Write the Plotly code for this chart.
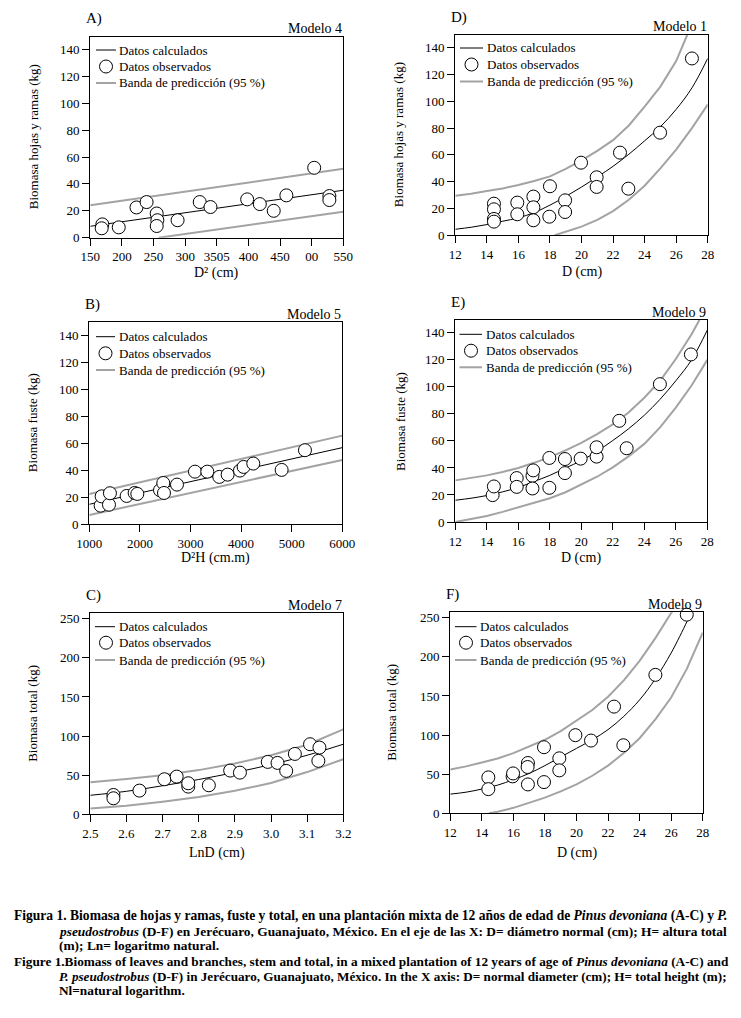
import plotly.graph_objects as go

# The page body keeps its default 8px margin, so the figure is sized to fit inside the
# 741x1018 window and every pixel position below is measured in window coordinates.
WIN_W, WIN_H = 741, 1018
OFF = 8
W, H = WIN_W - 2 * OFF, WIN_H - 2 * OFF
FONT = "Liberation Serif"

# ---------------- data ----------------
# Panel A  (Modelo 4): x = D^2 (cm), y = Biomasa hojas y ramas (kg)
A_obs_x = [169, 168, 195, 223, 239, 255, 256, 255, 288, 323, 340, 398, 418, 440, 460, 504, 528, 528]
A_obs_y = [9.9, 7.0, 7.7, 22.5, 26.5, 18.0, 13.0, 8.7, 13.0, 26.5, 22.8, 28.5, 25.0, 20.0, 31.5, 52.0, 31.0, 28.0]
A_calc_x = [150, 550]
A_calc_y = [8.5, 35.3]
A_up_x = [150, 550]
A_up_y = [24.2, 51.2]
A_lo_x = [258, 550]
A_lo_y = [0.0, 19.3]
A_ticks = [150, 200, 250, 300, 350, 400, 450, 500, 550]
A_ticktext = ["150", "200", "250", "300", "3505", "400", "450", "00", "550"]

# Panel B  (Modelo 5): x = D^2H (cm.m), y = Biomasa fuste (kg)
B_obs_x = [1224, 1244, 1389, 1408, 1738, 1896, 1949, 2397, 2462, 2476, 2733, 3088, 3332, 3569, 3734, 3977, 4050, 4241, 4801, 5262]
B_obs_y = [13.6, 20.5, 14.3, 22.8, 20.8, 23.0, 22.3, 25.0, 30.4, 23.0, 29.2, 38.8, 38.8, 34.9, 36.6, 39.6, 42.3, 44.8, 40.1, 54.7]
B_calc_x = [1000, 6000]
B_calc_y = [14.6, 56.6]
B_up_x = [1000, 6000]
B_up_y = [22.2, 65.5]
B_lo_x = [1000, 6000]
B_lo_y = [6.7, 47.5]

# Panel C  (Modelo 7): x = LnD (cm), y = Biomasa total (kg)
C_obs_x = [2.564, 2.564, 2.636, 2.705, 2.739, 2.771, 2.771, 2.828, 2.887, 2.914, 2.991, 3.018, 3.042, 3.066, 3.108, 3.134, 3.131]
C_obs_y = [24.7, 20.5, 30.3, 44.8, 48.2, 35.4, 39.7, 37.1, 55.9, 53.3, 67.0, 65.7, 55.5, 77.2, 89.6, 85.3, 68.3]
C_line_x = [2.5, 2.6, 2.7, 2.8, 2.9, 3.0, 3.1, 3.2]
C_calc_y = [24.3, 29.4, 36.5, 44.5, 53.5, 63.5, 75.5, 89.6]
C_up_y = [41.0, 45.0, 50.0, 56.5, 65.0, 75.5, 89.0, 108.5]
C_lo_y = [7.3, 11.0, 16.0, 22.0, 30.0, 40.0, 54.0, 70.4]

# Panel D  (Modelo 1): x = D (cm), y = Biomasa hojas y ramas (kg)
D_obs_x = [14.45, 14.45, 14.45, 14.45, 15.93, 15.93, 16.95, 16.95, 16.95, 18.0, 17.96, 18.96, 18.96, 19.97, 20.96, 20.96, 22.44, 22.97, 24.98, 27.0]
D_obs_y = [23.6, 19.4, 12.2, 10.2, 24.4, 15.7, 28.9, 20.9, 11.2, 36.6, 13.9, 26.1, 17.4, 54.2, 43.3, 36.1, 61.7, 34.8, 76.6, 132.0]
D_calc_x = [12, 13, 14, 15, 16, 17, 18, 19, 20, 21, 22, 23, 24, 25, 26, 27, 28]
D_calc_y = [4.5, 6.0, 8.0, 10.5, 13.0, 17.0, 22.5, 29.0, 36.0, 43.5, 51.5, 60.5, 70.5, 81.0, 94.0, 110.0, 132.0]
D_up_x = [12, 13, 14, 15, 16, 17, 18, 19, 20, 21, 22, 23, 24, 25, 26, 26.7]
D_up_y = [29.6, 31.0, 33.0, 35.0, 37.6, 40.5, 44.0, 49.5, 56.0, 63.0, 71.0, 82.0, 96.0, 111.0, 130.0, 149.5]
D_lo_x = [18.3, 19, 20, 21, 22, 23, 24, 25, 26, 27, 28]
D_lo_y = [0.0, 2.5, 6.5, 11.5, 18.0, 26.5, 37.0, 50.0, 64.0, 80.0, 97.5]

# Panel E  (Modelo 9): x = D (cm), y = Biomasa fuste (kg)
E_obs_x = [14.37, 14.45, 15.9, 15.9, 16.9, 16.95, 16.9, 17.97, 17.97, 18.96, 18.96, 19.96, 20.97, 20.97, 22.41, 22.88, 24.99, 26.96]
E_obs_y = [19.9, 26.3, 32.5, 26.0, 34.2, 38.2, 24.8, 47.4, 25.3, 46.6, 36.2, 46.9, 48.4, 55.3, 74.9, 54.6, 102.0, 124.0]
E_calc_x = [12, 13, 14, 15, 16, 17, 18, 19, 20, 21, 22, 23, 24, 25, 26, 27, 28]
E_calc_y = [16.1, 17.6, 19.6, 22.3, 25.6, 30.0, 34.5, 40.0, 45.4, 52.4, 60.3, 69.0, 79.0, 90.8, 104.5, 120.0, 142.0]
E_up_x = [12, 13, 14, 15, 16, 17, 18, 19, 20, 21, 22, 23, 24, 25, 26, 27, 27.5]
E_up_y = [30.8, 32.5, 34.5, 37.0, 40.0, 43.8, 48.0, 53.0, 58.6, 65.0, 72.2, 81.0, 92.0, 104.5, 120.6, 139.0, 149.5]
E_lo_x = [12, 13, 14, 15, 16, 17, 18, 19, 20, 21, 22, 23, 24, 25, 26, 27, 28]
E_lo_y = [0.0, 2.0, 4.5, 7.5, 10.7, 14.0, 17.6, 22.0, 27.5, 33.5, 40.4, 48.6, 57.8, 70.0, 84.6, 101.0, 120.0]

# Panel F  (Modelo 9): x = D (cm), y = Biomasa total (kg)
F_obs_x = [14.41, 14.41, 15.95, 15.98, 16.92, 16.9, 16.92, 17.94, 17.94, 18.91, 18.91, 19.93, 20.92, 22.38, 22.97, 25.0, 26.99]
F_obs_y = [45.9, 30.9, 47.2, 51.0, 64.3, 59.2, 36.9, 84.5, 39.9, 70.3, 54.9, 99.9, 93.0, 136.4, 87.0, 177.0, 254.0]
F_calc_x = [12, 13, 14, 15, 16, 17, 18, 19, 20, 21, 22, 23, 24, 25, 26, 27, 27.3]
F_calc_y = [24.5, 27.0, 31.0, 36.0, 43.0, 51.0, 61.0, 72.0, 83.0, 94.0, 107.0, 124.0, 145.0, 172.0, 205.0, 245.0, 258.0]
F_up_x = [12, 13, 14, 15, 16, 17, 18, 19, 20, 21, 22, 23, 24, 25, 26, 26.1]
F_up_y = [56.0, 60.0, 65.0, 70.0, 77.0, 85.0, 94.0, 105.0, 118.0, 132.0, 149.0, 170.0, 195.0, 224.0, 256.0, 259.0]
F_lo_x = [14.45, 15, 16, 17, 18, 19, 20, 21, 22, 23, 24, 25, 26, 27, 28]
F_lo_y = [0.0, 2.0, 7.0, 13.0, 20.0, 28.0, 37.0, 48.0, 61.0, 77.0, 96.0, 120.0, 148.0, 185.0, 231.0]

LEGEND_LABELS = ["Datos calculados", "Datos observados", "Banda de predicción (95 %)"]

# ---------------- layout geometry (window pixels) ----------------
panels = [
    dict(id=1, letter="A)", model="Modelo 4", l=90.3, r=343.3, t=36.7, b=237.7,
         xr=[150, 550], yr=[0, 149.5], ytitle="Biomasa hojas y ramas (kg)", xtitle="D² (cm)",
         ytx=33, xty=273, rows=[50, 66.5, 83], lx=(96, 116, 106, 117),
         obs=(A_obs_x, A_obs_y), calc=(A_calc_x, A_calc_y), up=(A_up_x, A_up_y), lo=(A_lo_x, A_lo_y),
         ticks=dict(tickvals=A_ticks, ticktext=A_ticktext), ydt=20),
    dict(id=2, letter="D)", model="Modelo 1", l=455.3, r=707.7, t=35.0, b=235.3,
         xr=[12, 28], yr=[0, 149.5], ytitle="Biomasa hojas y ramas (kg)", xtitle="D (cm)",
         ytx=398, xty=272, rows=[48, 64.5, 81.5], lx=(460, 483, 471.5, 485),
         obs=(D_obs_x, D_obs_y), calc=(D_calc_x, D_calc_y), up=(D_up_x, D_up_y), lo=(D_lo_x, D_lo_y),
         ticks=dict(dtick=2, tick0=12), ydt=20),
    dict(id=3, letter="B)", model="Modelo 5", l=89.3, r=342.3, t=322.3, b=524.0,
         xr=[1000, 6000], yr=[0, 149.5], ytitle="Biomasa fuste (kg)", xtitle="D²H (cm.m)",
         ytx=32, xty=558, rows=[336.7, 353.3, 370], lx=(96, 115, 105.5, 117),
         obs=(B_obs_x, B_obs_y), calc=(B_calc_x, B_calc_y), up=(B_up_x, B_up_y), lo=(B_lo_x, B_lo_y),
         ticks=dict(dtick=1000, tick0=1000), ydt=20),
    dict(id=4, letter="E)", model="Modelo 9", l=455.3, r=707.3, t=320.0, b=522.0,
         xr=[12, 28], yr=[0, 149.5], ytitle="Biomasa fuste (kg)", xtitle="D (cm)",
         ytx=400, xty=558, rows=[334.3, 350.7, 367.3], lx=(459.5, 482, 471, 483.5),
         obs=(E_obs_x, E_obs_y), calc=(E_calc_x, E_calc_y), up=(E_up_x, E_up_y), lo=(E_lo_x, E_lo_y),
         ticks=dict(dtick=2, tick0=12), ydt=20),
    dict(id=5, letter="C)", model="Modelo 7", l=90.3, r=343.3, t=613.3, b=814.3,
         xr=[2.5, 3.2], yr=[0, 257], ytitle="Biomasa total (kg)", xtitle="LnD (cm)",
         ytx=33, xty=853, rows=[626.7, 642.7, 660], lx=(95, 115, 106, 117),
         obs=(C_obs_x, C_obs_y), calc=(C_line_x, C_calc_y), up=(C_line_x, C_up_y), lo=(C_line_x, C_lo_y),
         ticks=dict(dtick=0.1, tick0=2.5, tickformat=".1f"), ydt=50),
    dict(id=6, letter="F)", model="Modelo 9", l=450.3, r=702.7, t=612.3, b=813.3,
         xr=[12, 28], yr=[0, 257], ytitle="Biomasa total (kg)", xtitle="D (cm)",
         ytx=392, xty=853, rows=[626.7, 642.7, 660], lx=(455, 476.5, 466, 478),
         obs=(F_obs_x, F_obs_y), calc=(F_calc_x, F_calc_y), up=(F_up_x, F_up_y), lo=(F_lo_x, F_lo_y),
         ticks=dict(dtick=2, tick0=12), ydt=50),
]


def px2x(px):
    return (px - OFF) / W


def px2y(py):
    return 1 - (py - OFF) / H


fig = go.Figure()
layout = dict(
    template="none",
    width=W, height=H, margin=dict(l=0, r=0, t=0, b=0, pad=0, autoexpand=False),
    paper_bgcolor="white", plot_bgcolor="white", showlegend=False,
    font=dict(family=FONT, size=13, color="black"),
)
annotations = []
shapes = []

GRAY = "#a3a3a3"

for p in panels:
    i = p["id"]
    xa = "x" if i == 1 else f"x{i}"
    ya = "y" if i == 1 else f"y{i}"
    xkey = "xaxis" if i == 1 else f"xaxis{i}"
    ykey = "yaxis" if i == 1 else f"yaxis{i}"
    common = dict(showline=True, linecolor="black", linewidth=1.3, mirror=True,
                  ticks="outside", ticklen=7, tickwidth=1.2, tickcolor="black",
                  showgrid=False, zeroline=False, automargin=False,
                  tickfont=dict(family=FONT, size=13, color="black"))
    layout[xkey] = dict(common, domain=[px2x(p["l"]), px2x(p["r"])], range=p["xr"],
                        anchor=ya, **p["ticks"])
    layout[ykey] = dict(common, domain=[px2y(p["b"]), px2y(p["t"])], range=p["yr"],
                        anchor=xa, dtick=p["ydt"], tick0=0)

    # prediction bands
    for (bx, by) in (p["lo"], p["up"]):
        fig.add_trace(go.Scatter(x=bx, y=by, mode="lines", xaxis=xa, yaxis=ya,
                                 line=dict(color=GRAY, width=2), hoverinfo="skip",
                                 name=LEGEND_LABELS[2]))
    # calculated
    fig.add_trace(go.Scatter(x=p["calc"][0], y=p["calc"][1], mode="lines", xaxis=xa, yaxis=ya,
                             line=dict(color="black", width=1), line_shape="spline",
                             name=LEGEND_LABELS[0]))
    # observed
    fig.add_trace(go.Scatter(x=p["obs"][0], y=p["obs"][1], mode="markers", xaxis=xa, yaxis=ya,
                             marker=dict(symbol="circle", size=13, color="white",
                                         line=dict(color="black", width=1)),
                             cliponaxis=False, name=LEGEND_LABELS[1]))

    # panel letter and model label
    annotations.append(dict(text=p["letter"], x=px2x(p["l"] - 6), y=px2y(p["t"] - 18),
                            xref="paper", yref="paper", xanchor="left", yanchor="middle",
                            showarrow=False, font=dict(family=FONT, size=15, color="black")))
    annotations.append(dict(text=p["model"], x=px2x(p["r"] + 1), y=px2y(p["t"] - 8),
                            xref="paper", yref="paper", xanchor="right", yanchor="middle",
                            showarrow=False, font=dict(family=FONT, size=14, color="black")))
    # axis titles
    annotations.append(dict(text=p["ytitle"], x=px2x(p["ytx"]), y=px2y((p["t"] + p["b"]) / 2),
                            xref="paper", yref="paper", xanchor="center", yanchor="middle",
                            textangle=-90, showarrow=False,
                            font=dict(family=FONT, size=13, color="black")))
    annotations.append(dict(text=p["xtitle"], x=px2x((p["l"] + p["r"]) / 2), y=px2y(p["xty"]),
                            xref="paper", yref="paper", xanchor="center", yanchor="middle",
                            showarrow=False, font=dict(family=FONT, size=14, color="black")))

    # legend (drawn inside the plot, top-left)
    x0, x1, cx, tx = p["lx"]
    r1, r2, r3 = p["rows"]
    shapes.append(dict(type="line", xref="paper", yref="paper", x0=px2x(x0), x1=px2x(x1),
                       y0=px2y(r1), y1=px2y(r1), line=dict(color="black", width=1)))
    shapes.append(dict(type="circle", xref="paper", yref="paper",
                       x0=px2x(cx - 6.5), x1=px2x(cx + 6.5), y0=px2y(r2 + 6.5), y1=px2y(r2 - 6.5),
                       line=dict(color="black", width=1), fillcolor="white"))
    shapes.append(dict(type="line", xref="paper", yref="paper", x0=px2x(x0), x1=px2x(x1),
                       y0=px2y(r3), y1=px2y(r3), line=dict(color=GRAY, width=2)))
    for lbl, ry in zip(LEGEND_LABELS, (r1, r2, r3)):
        annotations.append(dict(text=lbl, x=px2x(tx), y=px2y(ry), xref="paper", yref="paper",
                                xanchor="left", yanchor="middle", showarrow=False,
                                font=dict(family=FONT, size=13, color="black")))

# caption (x, y, font size, text)
cap_lines = [
    (12, 916, 13.55, "<b>Figura 1. Biomasa de hojas y ramas, fuste y total, en una plantación mixta de 12 años de edad de <i>Pinus devoniana</i> (A-C) y <i>P.</i></b>"),
    (57, 931, 13.4, "<b><i>pseudostrobus</i> (D-F) en Jerécuaro, Guanajuato, México. En el eje de las X: D= diámetro normal (cm); H= altura total</b>"),
    (57, 945, 13.4, "<b>(m); Ln= logaritmo natural.</b>"),
    (12, 961, 13.27, "<b>Figure 1.Biomass of leaves and branches, stem and total, in a mixed plantation of 12 years of age of <i>Pinus devoniana</i> (A-C) and</b>"),
    (57, 976, 13.15, "<b><i>P. pseudostrobus</i> (D-F) in Jerécuaro, Guanajuato, México. In the X axis: D= normal diameter (cm); H= total height (m);</b>"),
    (57, 990, 13.3, "<b>Nl=natural logarithm.</b>"),
]
for cx_, cy_, fs, txt in cap_lines:
    annotations.append(dict(text=txt, x=px2x(cx_), y=px2y(cy_), xref="paper", yref="paper",
                            xanchor="left", yanchor="middle", showarrow=False,
                            font=dict(family=FONT, size=fs, color="black")))

layout["annotations"] = annotations
layout["shapes"] = shapes
fig.update_layout(**layout)
fig.write_html("out.html")
